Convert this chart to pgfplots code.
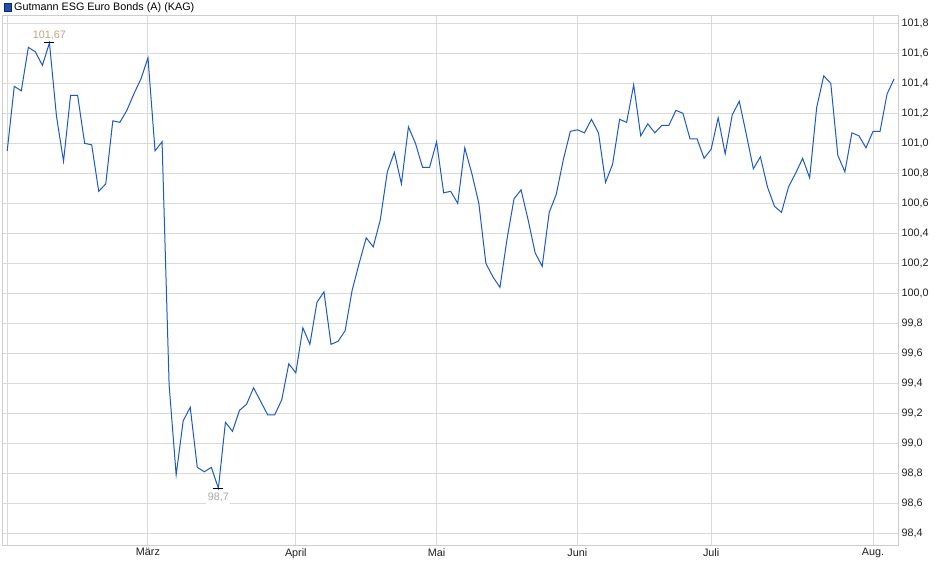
\documentclass[border=0pt]{standalone}
\usepackage{fontspec}
\setmainfont{Liberation Sans}
\usepackage{pgfplots}
\pgfplotsset{compat=1.18}

\definecolor{kurs}{RGB}{28,88,200}
\definecolor{legfill}{RGB}{30,80,170}
\definecolor{legbord}{RGB}{15,40,100}
\definecolor{gridgray}{RGB}{218,218,218}
\definecolor{framegray}{RGB}{205,205,205}
\definecolor{maxlab}{RGB}{190,165,130}
\definecolor{minlab}{RGB}{165,168,178}

% Kursverlauf, ein Punkt je Handelstag (Index 0 = Anfang Februar)
\pgfplotstableread{
i   kurs
0   100.95
1   101.38
2   101.35
3   101.64
4   101.61
5   101.52
6   101.67
7   101.18
8   100.88
9   101.32
10  101.32
11  101.00
12  100.99
13  100.68
14  100.73
15  101.15
16  101.14
17  101.22
18  101.33
19  101.43
20  101.57
21  100.95
22  101.01
23  99.39
24  98.79
25  99.15
26  99.24
27  98.84
28  98.81
29  98.84
30  98.70
31  99.14
32  99.08
33  99.22
34  99.26
35  99.37
36  99.28
37  99.19
38  99.19
39  99.29
40  99.53
41  99.47
42  99.77
43  99.66
44  99.94
45  100.01
46  99.66
47  99.68
48  99.75
49  100.02
50  100.20
51  100.37
52  100.31
53  100.49
54  100.81
55  100.94
56  100.73
57  101.11
58  101.00
59  100.84
60  100.84
61  101.01
62  100.67
63  100.68
64  100.60
65  100.97
66  100.80
67  100.60
68  100.20
69  100.11
70  100.04
71  100.36
72  100.63
73  100.69
74  100.49
75  100.27
76  100.18
77  100.54
78  100.66
79  100.89
80  101.08
81  101.09
82  101.07
83  101.16
84  101.07
85  100.74
86  100.86
87  101.16
88  101.14
89  101.39
90  101.05
91  101.13
92  101.07
93  101.12
94  101.12
95  101.22
96  101.20
97  101.03
98  101.03
99  100.90
100 100.96
101 101.17
102 100.93
103 101.19
104 101.28
105 101.06
106 100.83
107 100.91
108 100.71
109 100.58
110 100.54
111 100.71
112 100.80
113 100.90
114 100.77
115 101.24
116 101.45
117 101.40
118 100.92
119 100.81
120 101.07
121 101.05
122 100.97
123 101.08
124 101.08
125 101.33
126 101.43
}\kursdata

\begin{document}
\begin{tikzpicture}
\begin{axis}[
    name=ax,
    scale only axis,
    width=895.5pt, height=529pt,
    xmin=-0.67, xmax=126.55,
    ymin=98.322, ymax=101.849,
    axis line style={draw=framegray, line width=1pt},
    xtick={0,20,41,61,81,100,123},
    xticklabels={,März,April,Mai,Juni,Juli,Aug.},
    ytick={98.4,98.6,98.8,99.0,99.2,99.4,99.6,99.8,100.0,100.2,100.4,100.6,100.8,101.0,101.2,101.4,101.6,101.8},
    yticklabel pos=right,
    major tick length=0pt,
    grid=major,
    grid style={draw=gridgray, line width=1pt},
    tick label style={font=\fontsize{10.8}{13}\selectfont, text=black!88},
    yticklabel style={/pgf/number format/fixed, /pgf/number format/fixed zerofill,
        /pgf/number format/precision=1, /pgf/number format/use comma,
        /pgf/number format/1000 sep={}, /pgf/number format/assume math mode=true},
    legend style={at={(0,1)}, anchor=south west, draw=none, fill=none,
        inner sep=0pt, outer sep=0pt, xshift=1.5pt, yshift=2pt,
        font=\fontsize{10.8}{13}\selectfont},
    legend cell align=left,
    legend image code/.code={
        \draw[draw=legbord, fill=legfill, line width=0.8pt] (0pt,-3.7pt) rectangle (7.4pt,3.7pt);},
]
\addplot[color=kurs, line width=1pt, mark=none] table[x=i, y=kurs] {\kursdata};
\addlegendentry{Gutmann ESG Euro Bonds (A) (KAG)}

% Hoch
\addplot[forget plot, draw=none, mark=-, mark size=5pt,
    mark options={draw=black, line width=1pt},
    nodes near coords={101{,}67},
    every node near coord/.append style={text=maxlab, inner sep=1.5pt,
        anchor=south, yshift=1.2pt, font=\fontsize{10.8}{13}\selectfont}]
    coordinates {(6,101.67)};

% Tief
\addplot[forget plot, draw=none, mark=-, mark size=5pt,
    mark options={draw=black, line width=1pt},
    nodes near coords={98{,}7},
    every node near coord/.append style={text=minlab, fill=white, inner sep=1.5pt,
        anchor=north, yshift=-3pt, font=\fontsize{10.8}{13}\selectfont}]
    coordinates {(30,98.70)};
\end{axis}
\pgfresetboundingbox
\path[use as bounding box] ([shift={(-2.5pt,-34pt)}]ax.south west) rectangle ([shift={(42pt,16pt)}]ax.north east);
\end{tikzpicture}
\end{document}
